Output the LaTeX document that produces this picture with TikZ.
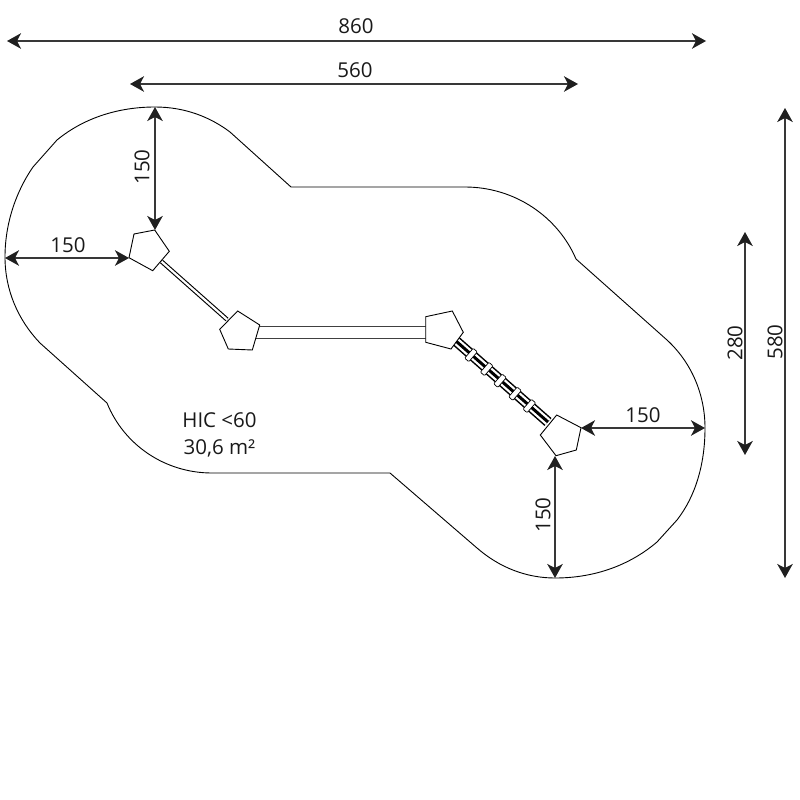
\documentclass[tikz,border=0pt]{standalone}
\usepackage{fontspec}
\setmainfont{Open Sans}
\usetikzlibrary{arrows.meta}
\tikzset{
  outline/.style={draw=black,line width=0.9pt,line join=round},
  dimline/.style={draw=black!78,line width=1.5pt,{Stealth[length=14pt,width=15.5pt,inset=4pt,black!88]}-{Stealth[length=14pt,width=15.5pt,inset=4pt,black!88]}},
  dimtext/.style={inner sep=0pt,font=\fontsize{20.5}{24}\selectfont,text=black!90},
  post/.style={draw=black,fill=white,line width=0.9pt,line join=miter},
  rung/.style={draw=black,fill=white,line width=0.7pt,rounded corners=1pt,minimum width=13pt,minimum height=5.5pt,inner sep=0pt,rotate=48.8},
  slidepart/.style={draw=black!75,line width=1pt},
}
\begin{document}
\begin{tikzpicture}[x=1pt,y=-1pt]
\useasboundingbox (0,0) rectangle (800,800);
% safety surface
\draw[outline] (291,187) -- (465,187)
  .. controls (515,187) and (558,217) .. (576,259)
  -- (667,340)
  .. controls (692,363) and (705,395) .. (705,428)
  .. controls (705,465) and (695,497) .. (677,520)
  -- (657,542)
  .. controls (630,565) and (595,578) .. (555,578)
  .. controls (527,578) and (500,568) .. (477,548)
  -- (390,473) -- (212,473)
  .. controls (165,473) and (124,445) .. (107,403)
  -- (40,343)
  .. controls (18,320) and (5,290) .. (5,257)
  .. controls (5,222) and (17,190) .. (33,167)
  -- (57,140)
  .. controls (85,117) and (120,107) .. (155,107)
  .. controls (185,107) and (210,117) .. (230,132)
  -- cycle;
% connectors between the posts
\coordinate (br1) at (161.5,261.5);
\coordinate (br2) at (227,319.5);
\draw[draw=black,line width=4.4pt] (br1) -- (br2);
\draw[draw=white,line width=2.2pt] (br1) -- (br2);
\coordinate (sl1a) at (259,326);
\coordinate (sl1b) at (426,326);
\coordinate (sl2a) at (255,338);
\coordinate (sl2b) at (426,338);
\draw[slidepart] (sl1a) -- (sl1b);
\draw[slidepart] (sl2a) -- (sl2b);
\coordinate (la1) at (456.5,341.5);
\coordinate (la2) at (548,422);
\draw[draw=black,line width=10.5pt] (la1) -- (la2);
\draw[draw=white,line width=7.5pt] (la1) -- (la2);
\draw[draw=black,line width=3pt] (la1) -- (la2);
\node[rung] (r1) at (471,355) {};
\node[rung] (r2) at (486.7,369) {};
\node[rung] (r3) at (500,380.7) {};
\node[rung] (r4) at (515,393.7) {};
\node[rung] (r5) at (529.3,406) {};
% posts
\draw[post] (154.7,230) -- (169.3,251.3) -- (152.7,270.7) -- (129,257.7) -- (134,234) -- cycle;
\draw[post] (237.7,311) -- (259.7,325) -- (252.3,350) -- (228.3,349) -- (219.7,329.3) -- cycle;
\draw[post] (425.7,316.7) -- (452.3,311) -- (463.3,332.3) -- (451,349) -- (425.7,342.3) -- cycle;
\draw[post] (556.7,415) -- (581,427.7) -- (576.3,450) -- (556,455.7) -- (540.3,435) -- cycle;
% dimension ends
\coordinate (a1) at (7,41);    \coordinate (a2) at (706,41);
\coordinate (b1) at (130,84);  \coordinate (b2) at (578,84);
\coordinate (c1) at (785,108); \coordinate (c2) at (785,578);
\coordinate (d1) at (745,232); \coordinate (d2) at (745,455);
\coordinate (e1) at (155,107); \coordinate (e2) at (155,230);
\coordinate (f1) at (5,258);   \coordinate (f2) at (129,258);
\coordinate (g1) at (581,428); \coordinate (g2) at (705,428);
\coordinate (h1) at (555,456); \coordinate (h2) at (555,578);
\draw[dimline] (a1) -- (a2);
\draw[dimline] (b1) -- (b2);
\draw[dimline] (c1) -- (c2);
\draw[dimline] (d1) -- (d2);
\draw[dimline] (e1) -- (e2);
\draw[dimline] (f1) -- (f2);
\draw[dimline] (g1) -- (g2);
\draw[dimline] (h1) -- (h2);
% labels
\node[dimtext] (t860) at (356,26) {860};
\node[dimtext] (t560) at (355,70) {560};
\node[dimtext,rotate=90] (t580) at (775,342) {580};
\node[dimtext,rotate=90] (t280) at (735,343) {280};
\node[dimtext,rotate=90] (t150a) at (142,167) {150};
\node[dimtext] (t150b) at (68,245) {150};
\node[dimtext] (t150c) at (643,415) {150};
\node[dimtext,rotate=90] (t150d) at (543,515) {150};
\node[dimtext] (hic) at (219.5,420) {HIC <60};
\node[dimtext] (area) at (219.5,448) {30,6 m²};
\end{tikzpicture}
\end{document}
